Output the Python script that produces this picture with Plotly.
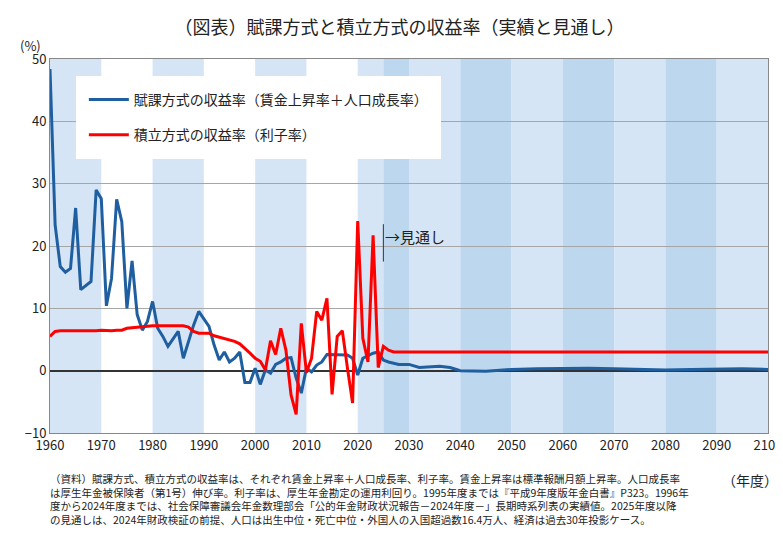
import plotly.graph_objects as go

# 実績（1960-2026）＋見通し
years_hist = list(range(1960, 2027))
paygo_hist = [48.4, 23.4, 16.7, 15.8, 16.4, 26.1, 13.0, 13.6, 14.3, 29.0,
              27.6, 10.4, 14.8, 27.5, 23.9, 10.0, 17.6, 9.0, 6.5, 7.9,
              11.1, 6.8, 5.5, 3.9, 5.2, 6.3, 2.0, 4.7, 7.3, 9.5,
              8.4, 7.1, 4.1, 1.7, 3.0, 1.4, 2.0, 3.0, -1.9, -1.9,
              0.4, -2.2, 0.1, -0.4, 1.0, 1.4, 2.0, 2.1, -1.2, -3.6,
              0.4, -0.2, 0.9, 1.4, 2.6, 2.6, 2.6, 2.6, 2.5, 2.0,
              -0.7, 2.0, 2.4, 2.8, 3.0, 1.7, 1.4]
funded_hist = [5.5, 6.3, 6.4, 6.4, 6.4, 6.3, 6.4, 6.4, 6.4, 6.4,
               6.5, 6.4, 6.4, 6.5, 6.5, 6.8, 6.9, 7.0, 7.0, 7.1,
               7.2, 7.2, 7.2, 7.2, 7.2, 7.2, 7.2, 7.0, 6.3, 6.0,
               6.0, 6.0, 5.6, 5.4, 5.2, 5.0, 4.7, 4.3, 3.6, 2.8,
               2.0, 1.5, 0.1, 4.8, 2.6, 6.8, 3.3, -3.9, -7.0, 7.6,
               -0.3, 2.0, 9.5, 8.1, 11.6, -3.8, 5.5, 6.4, 0.4, -5.2,
               24.0, 5.2, 1.4, 21.7, 0.5, 3.9, 3.3]

years_proj = [2027, 2028, 2029, 2030, 2032, 2034, 2036, 2038, 2040, 2045,
              2050, 2055, 2060, 2065, 2070, 2075, 2080, 2085, 2090, 2095, 2100]
paygo_proj = [1.2, 1.0, 1.0, 1.0, 0.5, 0.6, 0.7, 0.5, 0.0, -0.1,
              0.2, 0.3, 0.4, 0.4, 0.3, 0.2, 0.1, 0.2, 0.3, 0.3, 0.2]
funded_proj = [3.0] * len(years_proj)

years = years_hist + years_proj
paygo = paygo_hist + paygo_proj
funded = funded_hist + funded_proj

LIGHT = "#d5e5f6"
DARK = "#bdd7ee"
bands = [(1960, 1970, LIGHT), (1980, 1990, LIGHT), (2000, 2010, LIGHT),
         (2020, 2025, LIGHT), (2025, 2030, DARK), (2030, 2040, LIGHT),
         (2040, 2050, DARK), (2050, 2060, LIGHT), (2060, 2070, DARK),
         (2070, 2080, LIGHT), (2080, 2090, DARK), (2090, 2100, LIGHT)]

FONT = "Noto Sans CJK JP"

fig = go.Figure()
fig.add_trace(go.Scatter(x=years, y=paygo, mode="lines", name="賦課方式の収益率（賃金上昇率＋人口成長率）",
                         legendgroup="a", line=dict(color="#1f5fa0", width=3)))
fig.add_trace(go.Scatter(x=years, y=funded, mode="lines", name="積立方式の収益率（利子率）",
                         legendgroup="b", line=dict(color="#ff0000", width=3)))

for x0, x1, c in bands:
    fig.add_shape(type="rect", xref="x", yref="y", x0=x0, x1=x1, y0=-10, y1=50,
                  fillcolor=c, line=dict(width=0), layer="below")

# 見通しの境界
fig.add_shape(type="line", xref="x", yref="y", x0=2025, x1=2025, y0=17.5, y1=23.5,
              line=dict(color="#333333", width=1))
fig.add_annotation(x=2025, y=21.5, xref="x", yref="y", text="→見通し", showarrow=False,
                   xanchor="left", font=dict(size=15, color="#222222", family=FONT))

notes = ("（資料）賦課方式、積立方式の収益率は、それぞれ賃金上昇率＋人口成長率、利子率。賃金上昇率は標準報酬月額上昇率。人口成長率<br>"
         "は厚生年金被保険者（第1号）伸び率。利子率は、厚生年金勘定の運用利回り。1995年度までは『平成9年度版年金白書』P323。1996年<br>"
         "度から2024年度までは、社会保障審議会年金数理部会「公的年金財政状況報告－2024年度－」長期時系列表の実績値。2025年度以降<br>"
         "の見通しは、2024年財政検証の前提、人口は出生中位・死亡中位・外国人の入国超過数16.4万人、経済は過去30年投影ケース。")
fig.add_annotation(x=-0.003, y=-0.095, xref="paper", yref="paper", text=notes, showarrow=False,
                   xanchor="left", yanchor="top", align="left",
                   font=dict(size=10.5, color="#222222", family=FONT))
fig.add_annotation(x=0.975, y=-0.125, xref="paper", yref="paper", text="（年度）", showarrow=False,
                   xanchor="center", yanchor="middle", font=dict(size=14, color="#222222", family=FONT))
fig.add_annotation(x=-0.045, y=1.035, xref="paper", yref="paper", text="(%)", showarrow=False,
                   xanchor="left", yanchor="middle", font=dict(size=13, color="#222222", family=FONT))

fig.update_layout(
    width=783, height=548,
    margin=dict(l=42, r=23, t=51, b=123, autoexpand=False),
    plot_bgcolor="white", paper_bgcolor="white",
    font=dict(family=FONT, size=13, color="#222222"),
    title=dict(text="（図表）賦課方式と積立方式の収益率（実績と見通し）", x=0.5, y=0.975,
               xanchor="center", font=dict(size=18, color="#222222", family=FONT)),
    legend=dict(x=0.036, y=0.955, xanchor="left", yanchor="top", bgcolor="white",
                font=dict(size=14, family=FONT), tracegroupgap=14,
                itemwidth=40, borderwidth=8, bordercolor="white"),
    xaxis=dict(range=[1960, 2100], tickvals=list(range(1960, 2101, 10)), showgrid=False,
               zeroline=False, showline=True, linecolor="#888888", mirror=True,
               ticks="", automargin=False, tickfont=dict(size=13, color="#222222")),
    yaxis=dict(range=[-10, 50], tickvals=list(range(-10, 51, 10)), showgrid=True,
               gridcolor="#a6a6a6", zeroline=True, zerolinecolor="#333333", zerolinewidth=1.5,
               showline=True, linecolor="#888888", mirror=True, automargin=False,
               tickfont=dict(size=13, color="#222222")),
)

fig.write_html("out.html")
